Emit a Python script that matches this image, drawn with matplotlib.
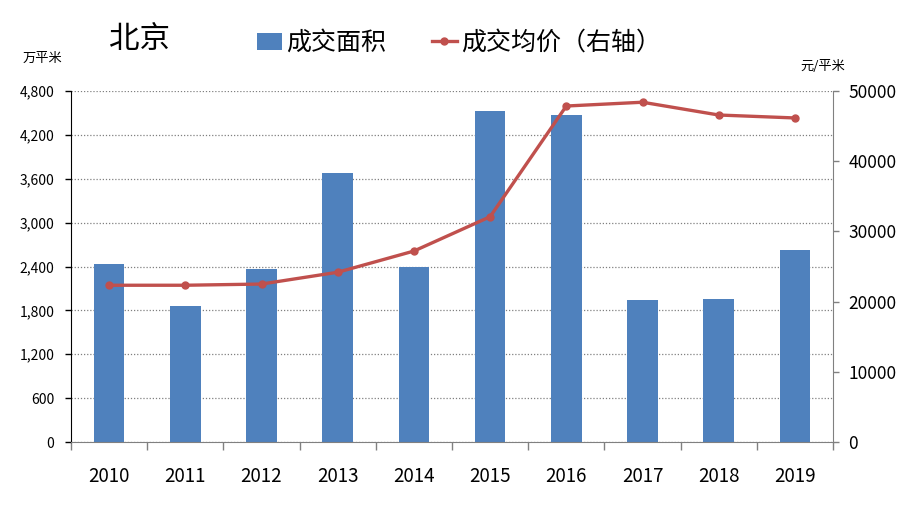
import matplotlib
matplotlib.use('Agg')
import matplotlib.pyplot as plt
from matplotlib.lines import Line2D
from matplotlib.patches import Patch
from matplotlib.ticker import FuncFormatter, FixedLocator
import numpy as np

plt.rcParams['font.family'] = ['Noto Sans CJK SC', 'DejaVu Sans']

# 数据
years = ['2010', '2011', '2012', '2013', '2014', '2015', '2016', '2017', '2018', '2019']
area = [2433, 1860, 2366, 3678, 2393, 4526, 4471, 1941, 1955, 2626]       # 成交面积 万平米
price = [22330, 22330, 22500, 24180, 27200, 32090, 47860, 48400, 46580, 46160]  # 成交均价 元/平米

bar_color = '#4F81BD'
line_color = '#C0504D'

fig = plt.figure(figsize=(9.24, 5.09), dpi=100)
ax = fig.add_axes([71 / 924, 1 - 442 / 509, (833 - 71) / 924, (442 - 91) / 509])

x = np.arange(len(years))
ax.bar(x, area, width=0.4, color=bar_color, zorder=2)
ax.set_xlim(-0.5, len(years) - 0.5)
ax.set_ylim(0, 4800)
ax.set_yticks(np.arange(0, 4801, 600))
ax.yaxis.set_major_formatter(FuncFormatter(lambda v, p: f'{int(v):,}'))
ax.set_axisbelow(True)
ax.yaxis.grid(True, linestyle=(0, (1, 1.5)), color='#808080', linewidth=0.9)

# x轴：标签在类别中心，刻度线在类别分界
ax.set_xticks(x)
ax.set_xticklabels(years, fontsize=13.5)
ax.tick_params(axis='x', which='major', length=0, pad=17)
ax.xaxis.set_minor_locator(FixedLocator(np.arange(-0.5, len(years), 1)))
ax.tick_params(axis='x', which='minor', length=6, color='#808080', width=1)

ax.tick_params(axis='y', length=4, width=1, pad=8, labelsize=10, color='black')
ax.spines['top'].set_visible(False)
ax.spines['right'].set_visible(False)
ax.spines['left'].set_color('black')
ax.spines['bottom'].set_color('#808080')

ax2 = ax.twinx()
ax2.plot(x, price, color=line_color, linewidth=2.4, marker='o', markersize=5, zorder=3)
ax2.set_ylim(0, 50000)
ax2.set_yticks(np.arange(0, 50001, 10000))
ax2.tick_params(axis='y', length=4, width=1, pad=7, labelsize=12.5, color='#808080')
for s in ['top', 'left', 'bottom']:
    ax2.spines[s].set_visible(False)
ax2.spines['right'].set_color('#808080')

# 标题、单位
fig.text(140 / 924, 1 - 40 / 509, '北京', fontsize=22, ha='center', va='center')
fig.text(42 / 924, 1 - 58 / 509, '万平米', fontsize=9.5, ha='center', va='center')
fig.text(823 / 924, 1 - 66 / 509, '元/平米', fontsize=9.5, ha='center', va='center')

handles = [Patch(facecolor=bar_color, edgecolor='none'),
           Line2D([0], [0], color=line_color, linewidth=2.4, marker='o', markersize=5)]
fig.legend(handles, ['成交面积', '成交均价（右轴）'], loc='center',
           bbox_to_anchor=(459 / 924, 1 - 43 / 509), ncol=2, frameon=False,
           fontsize=18, handlelength=1.0, handletextpad=0.2, columnspacing=1.8)

fig.savefig('out.png', dpi=100)
